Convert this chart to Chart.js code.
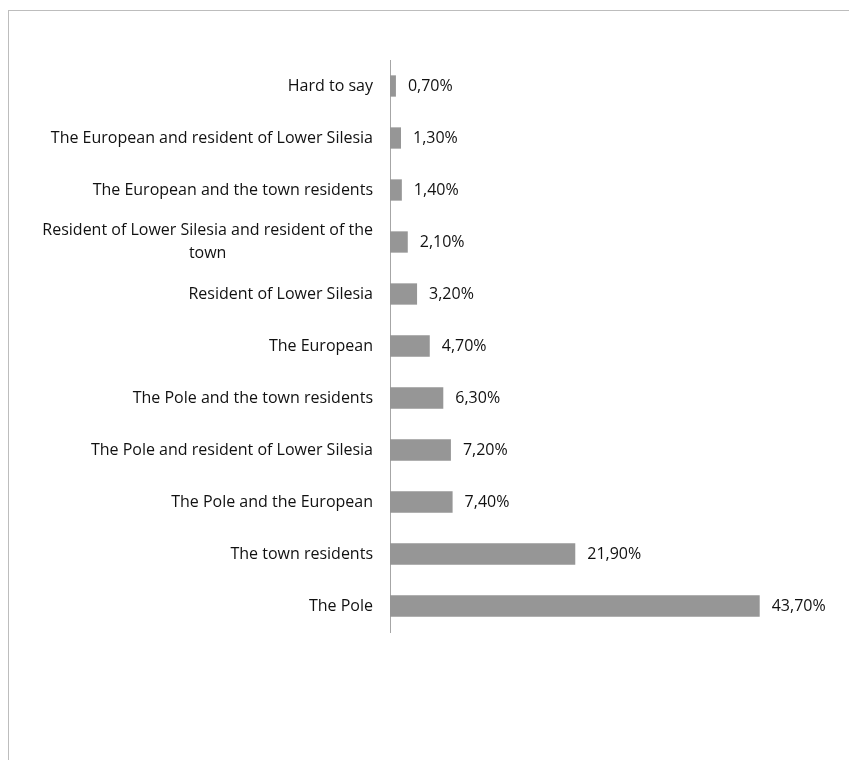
<!DOCTYPE html>
<html>
<head>
<meta charset="utf-8">
<script src="https://cdn.jsdelivr.net/npm/chart.js@4/dist/chart.umd.min.js"></script>
<style>
    html, body { margin: 0; padding: 0; background: #fff; overflow: hidden; }
    .frame {
        position: absolute; left: 8px; top: 10px;
        width: 900px; height: 800px;
        border: 1px solid #bdbdbd;
    }
    .wrap { position: absolute; left: 0; top: 0; width: 849px; height: 760px; }
</style>
</head>
<body>
<div class="frame"></div>
<div class="wrap"><canvas id="identityChart" width="849" height="760"></canvas></div>
<script>
const categories = [
    'Hard to say',
    'The European and resident of Lower Silesia',
    'The European and the town residents',
    ['Resident of Lower Silesia and resident of the', 'town'],
    'Resident of Lower Silesia',
    'The European',
    'The Pole and the town residents',
    'The Pole and resident of Lower Silesia',
    'The Pole and the European',
    'The town residents',
    'The Pole'
];
const shares = [0.7, 1.3, 1.4, 2.1, 3.2, 4.7, 6.3, 7.2, 7.4, 21.9, 43.7];

const fontFamily = '"Open Sans", sans-serif';
const textColor = '#111';

// category labels: right aligned, wrapped lines centred on each other like the original
const categoryLabels = {
    id: 'categoryLabels',
    afterDraw(chart) {
        const ctx = chart.ctx;
        const yScale = chart.scales.y;
        const right = chart.chartArea.left - 17;
        const lineHeight = 23;
        ctx.save();
        ctx.font = '16px ' + fontFamily;
        ctx.fillStyle = textColor;
        ctx.textBaseline = 'middle';
        categories.forEach((label, i) => {
            const y = yScale.getPixelForTick(i);
            const lines = Array.isArray(label) ? label : [label];
            const blockWidth = Math.max(...lines.map(l => ctx.measureText(l).width));
            const centre = right - blockWidth / 2;
            const top = y - (lines.length - 1) * lineHeight / 2;
            ctx.textAlign = lines.length > 1 ? 'center' : 'right';
            lines.forEach((line, j) => {
                ctx.fillText(line, lines.length > 1 ? centre : right, top + j * lineHeight);
            });
        });
        ctx.restore();
    }
};

const valueLabels = {
    id: 'valueLabels',
    afterDatasetsDraw(chart) {
        const ctx = chart.ctx;
        const meta = chart.getDatasetMeta(0);
        ctx.save();
        ctx.font = '16px ' + fontFamily;
        ctx.fillStyle = textColor;
        ctx.textAlign = 'left';
        ctx.textBaseline = 'middle';
        meta.data.forEach((bar, i) => {
            const text = shares[i].toFixed(2).replace('.', ',') + '%';
            ctx.fillText(text, bar.x + 12, bar.y);
        });
        ctx.restore();
    }
};

const ctx = document.getElementById('identityChart').getContext('2d');
new Chart(ctx, {
    type: 'bar',
    data: {
        labels: categories,
        datasets: [{
            data: shares,
            backgroundColor: '#969696',
            barPercentage: 0.41,
            categoryPercentage: 1.0
        }]
    },
    options: {
        indexAxis: 'y',
        responsive: false,
        animation: false,
        layout: { padding: { top: 60, bottom: 128, right: 36, left: 0 } },
        plugins: { legend: { display: false }, tooltip: { enabled: false } },
        scales: {
            x: { display: false, min: 0, max: 50 },
            y: {
                afterFit: (scale) => { scale.width = 390; },
                grid: { display: false, drawTicks: false },
                border: { display: true, color: '#a6a6a6', width: 1 },
                ticks: { display: false }
            }
        }
    },
    plugins: [categoryLabels, valueLabels]
});
</script>
</body>
</html>
